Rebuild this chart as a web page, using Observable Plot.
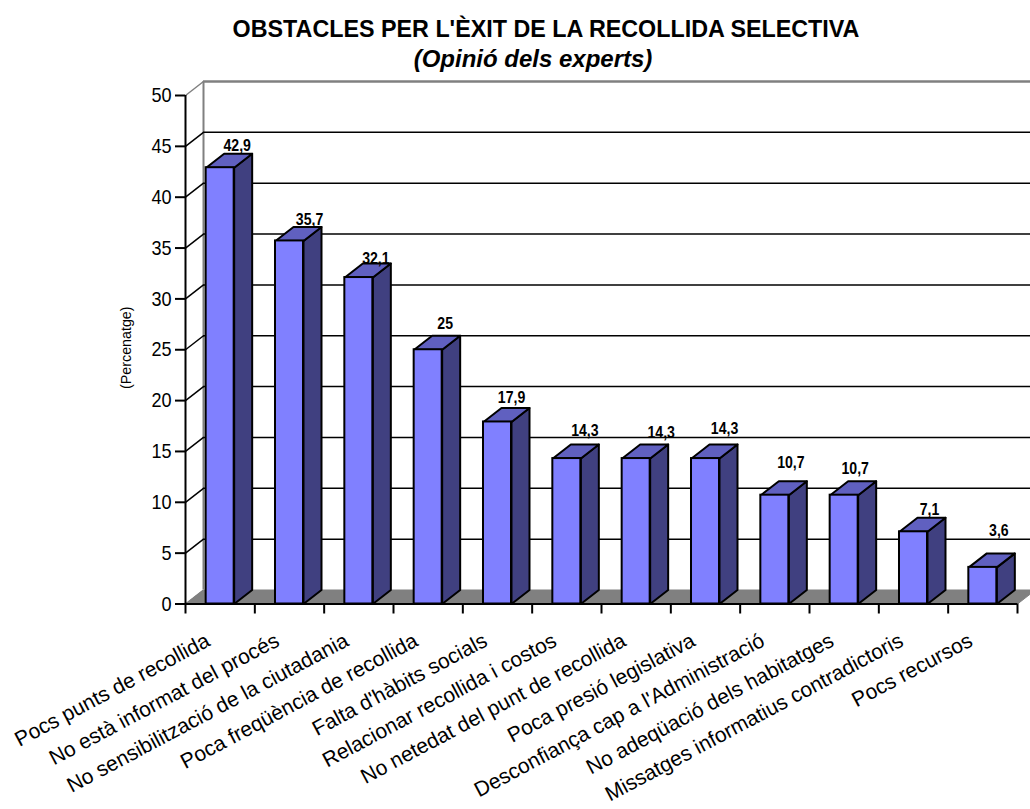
<!DOCTYPE html>
<html><head><meta charset="utf-8">
<script src="https://cdn.jsdelivr.net/npm/d3@7"></script>
<script src="https://cdn.jsdelivr.net/npm/@observablehq/plot@0.6"></script>
<style>
html,body{margin:0;padding:0;background:#fff;overflow:hidden}
#t{height:70px;width:1030px;position:relative;font-family:"Liberation Sans",Arial,sans-serif;font-weight:bold;font-size:23.3px;line-height:26px;color:#000}
#t div{position:absolute;white-space:nowrap;transform:translateX(-50%)}
svg{display:block}
</style></head><body>
<div id="t"><div style="left:546px;top:16px">OBSTACLES PER L'ÈXIT DE LA RECOLLIDA SELECTIVA</div><div style="left:533px;top:46px;font-style:italic;font-size:24px">(Opinió dels experts)</div></div>
<div id="c"></div>
<script>
const categories = ["Pocs punts de recollida","No està informat del procés","No sensibilització de la ciutadania","Poca freqüència de recollida","Falta d'hàbits socials","Relacionar recollida i costos","No netedat del punt de recollida","Poca presió legislativa","Desconfiança cap a l'Administració","No adeqüació dels habitatges","Missatges informatius contradictoris","Pocs recursos"];
const values = [42.9,35.7,32.1,25,17.9,14.3,14.3,14.3,10.7,10.7,7.1,3.6];
const valueLabels = ["42,9","35,7","32,1","25","17,9","14,3","14,3","14,3","10,7","10,7","7,1","3,6"];
const yTicks = [0,5,10,15,20,25,30,35,40,45,50];

// layout (separate from data)
const pxX = 69.33, pxY = 10.17;
const depthX = 18/pxX, depthY = 14/pxY, half = 14/pxX;
const labelNudgeX = [17,20,17,17,14,18,25,19,16,11,16,16];
const labelNudgeY = [3,2,0,7,5,9,7,11,13,7,3,17];

const rows = values.map((v,i)=>({i,v,c:i+.5,l:i+.5-half,r:i+.5+half}));
const side = rows.flatMap(d=>[[d.r,0],[d.r+depthX,depthY],[d.r+depthX,d.v+depthY],[d.r,d.v],[d.r,0]].map(([x,y])=>({x,y,z:d.i})));
const top_ = rows.flatMap(d=>[[d.l,d.v],[d.l+depthX,d.v+depthY],[d.r+depthX,d.v+depthY],[d.r,d.v],[d.l,d.v]].map(([x,y])=>({x,y,z:d.i})));
const floor = [[0,0],[depthX,depthY],[12+depthX,depthY],[12,0],[0,0]].map(([x,y])=>({x,y}));
const narrow = '"Liberation Sans Narrow","Liberation Sans",sans-serif';
const grid = yTicks.filter(t=>t>0&&t<50);

const plot = Plot.plot({
  width:1030, height:739,
  marginLeft:185, marginRight:13, marginTop:25, marginBottom:205.5,
  x:{type:"linear",domain:[0,12]},
  y:{type:"linear",domain:[0,50]},
  style:{background:"#fff",overflow:"hidden"},
  marks:[
    Plot.line(floor,{x:"x",y:"y",fill:"#808080",stroke:"#808080",strokeWidth:1}),
    Plot.ruleX([depthX],{y1:depthY,y2:50+depthY,stroke:"#808080",strokeWidth:2}),
    Plot.ruleY([50+depthY],{x1:depthX,x2:12+depthX,stroke:"#808080",strokeWidth:2.5}),
    Plot.ruleY(grid.map(t=>t+depthY),{x1:depthX,x2:12+depthX,stroke:"#000",strokeWidth:1.5}),
    Plot.link(grid,{x1:0,y1:d=>d,x2:depthX,y2:d=>d+depthY,stroke:"#000",strokeWidth:1.5}),
    Plot.link([0,50],{x1:0,y1:d=>d,x2:depthX,y2:d=>d+depthY,stroke:"#808080",strokeWidth:1.5}),
    Plot.line(side,{x:"x",y:"y",z:"z",fill:"#404080",stroke:"#000",strokeWidth:2}),
    Plot.line(top_,{x:"x",y:"y",z:"z",fill:"#6060c0",stroke:"#000",strokeWidth:2}),
    Plot.rect(rows,{x1:"l",x2:"r",y1:0,y2:"v",fill:"#8080ff",stroke:"#000",strokeWidth:2}),
    Plot.ruleX([0],{y1:0,y2:50,stroke:"#000",strokeWidth:2}),
    Plot.ruleY([0],{x1:0,x2:12,stroke:"#000",strokeWidth:2}),
    Plot.axisY({ticks:yTicks,tickSize:10,tickPadding:4,fontSize:21,fontFamily:narrow,label:null,stroke:"#000",strokeWidth:2,fill:"#000"}),
    Plot.axisX({ticks:d3.range(13),tickSize:10,tickFormat:()=>"",label:null,stroke:"#000",strokeWidth:2}),
    Plot.text(rows,{x:d=>d.c+labelNudgeX[d.i]/pxX,y:d=>d.v+depthY+labelNudgeY[d.i]/pxY,text:d=>valueLabels[d.i],lineAnchor:"bottom",fontFamily:narrow,fontWeight:"bold",fontSize:16,fill:"#000"}),
    Plot.text(rows,{x:"c",y:0,text:d=>categories[d.i],dx:-12,dy:35,rotate:-28,textAnchor:"end",lineAnchor:"middle",fontFamily:'"Liberation Sans",Arial,sans-serif',fontSize:21,fill:"#000"}),
    Plot.text(["(Percenatge)"],{x:0,y:25.2,dx:-59,rotate:-90,fontFamily:narrow,fontSize:15,fill:"#000"})
  ]
});
document.getElementById("c").appendChild(plot);
// condense the glyphs: no narrow face is installed
const squeeze = {"21":0.86,"16":0.88,"15":0.95};
d3.select(plot).selectAll('g[font-family*="Narrow"]').each(function(){
  const k = squeeze[this.getAttribute("font-size")] || 0.86;
  d3.select(this).selectAll("text").each(function(){
    this.setAttribute("textLength", this.getComputedTextLength()*k);
    this.setAttribute("lengthAdjust","spacingAndGlyphs");
  });
});
</script></body></html>
